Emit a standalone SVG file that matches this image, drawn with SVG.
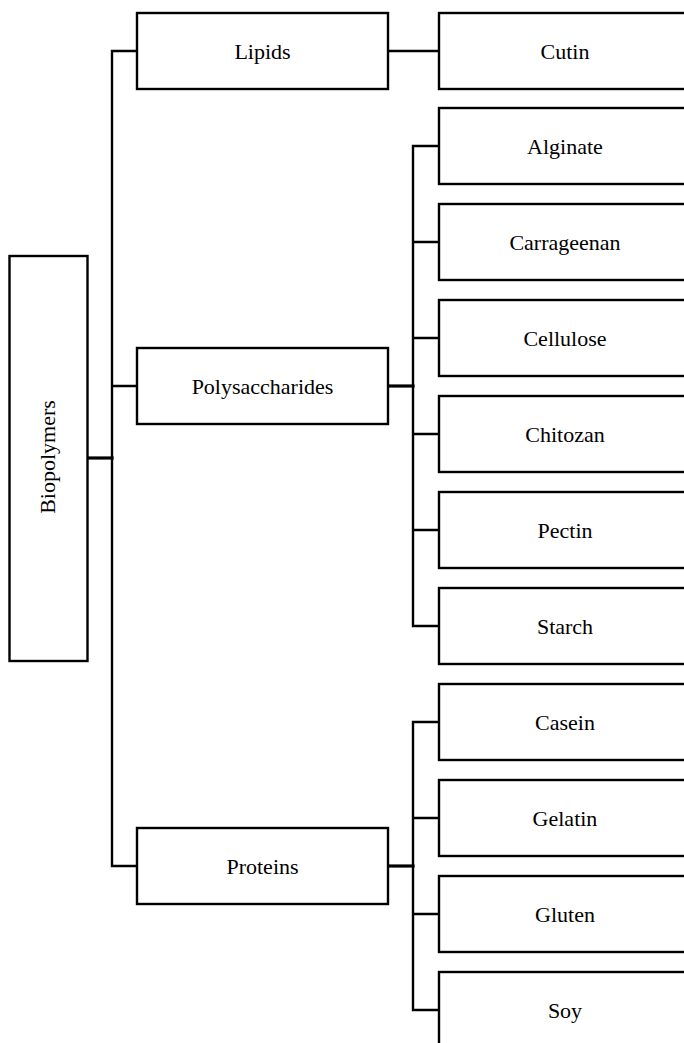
<svg xmlns="http://www.w3.org/2000/svg" width="684" height="1043" viewBox="0 0 684 1043">
<style>
.n{fill:#fff;stroke:#000;stroke-width:2.4}
text{font-family:"Liberation Serif","Times New Roman","DejaVu Serif",serif;font-size:22px;fill:#000;text-anchor:middle}
.c{fill:none;stroke:#000;stroke-width:2.4;stroke-linejoin:miter;stroke-linecap:square}
.b{stroke-width:3.2}
</style>
<g id="connectors">
<path class="c b" d="M87 458H112"/>
<path class="c" d="M137 51H112V866H137M112 386H137"/>
<path class="c" d="M388 51H439"/>
<path class="c b" d="M388 386H413"/>
<path class="c" d="M439 146H413V626H439M413 242H439M413 338H439M413 434H439M413 530H439"/>
<path class="c b" d="M388 866H413"/>
<path class="c" d="M439 722H413V1010H439M413 818H439M413 914H439"/>
</g>
<g id="biopolymers"><rect class="n" x="9.5" y="256" width="78" height="405"/><text transform="translate(55,457) rotate(-90)">Biopolymers</text></g>
<g id="lipids"><rect class="n" x="137" y="13" width="251" height="76"/><text x="262.5" y="59">Lipids</text></g>
<g id="polysaccharides"><rect class="n" x="137" y="348" width="251" height="76"/><text x="262.5" y="394">Polysaccharides</text></g>
<g id="proteins"><rect class="n" x="137" y="828" width="251" height="76"/><text x="262.5" y="874">Proteins</text></g>
<g id="cutin"><rect class="n" x="439" y="13" width="252" height="76"/><text x="565" y="59">Cutin</text></g>
<g id="alginate"><rect class="n" x="439" y="108" width="252" height="76"/><text x="565" y="154">Alginate</text></g>
<g id="carrageenan"><rect class="n" x="439" y="204" width="252" height="76"/><text x="565" y="250">Carrageenan</text></g>
<g id="cellulose"><rect class="n" x="439" y="300" width="252" height="76"/><text x="565" y="346">Cellulose</text></g>
<g id="chitozan"><rect class="n" x="439" y="396" width="252" height="76"/><text x="565" y="442">Chitozan</text></g>
<g id="pectin"><rect class="n" x="439" y="492" width="252" height="76"/><text x="565" y="538">Pectin</text></g>
<g id="starch"><rect class="n" x="439" y="588" width="252" height="76"/><text x="565" y="634">Starch</text></g>
<g id="casein"><rect class="n" x="439" y="684" width="252" height="76"/><text x="565" y="730">Casein</text></g>
<g id="gelatin"><rect class="n" x="439" y="780" width="252" height="76"/><text x="565" y="826">Gelatin</text></g>
<g id="gluten"><rect class="n" x="439" y="876" width="252" height="76"/><text x="565" y="922">Gluten</text></g>
<g id="soy"><rect class="n" x="439" y="972" width="252" height="76"/><text x="565" y="1018">Soy</text></g>
</svg>
